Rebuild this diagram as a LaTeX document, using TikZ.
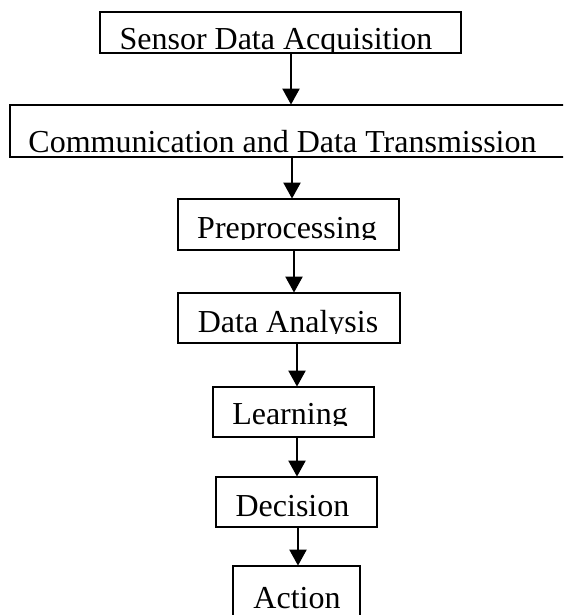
\documentclass[tikz,border=0pt]{standalone}
\usepackage{fontspec}
\setmainfont{Liberation Serif}
\usetikzlibrary{arrows.meta}
\begin{document}
\begin{tikzpicture}[x=1pt,y=-1pt,
  flowbox/.style={draw=black, line width=1.8pt, inner sep=0pt, minimum width=#1},
  lbl/.style={inner sep=0pt, anchor=base, font=\fontsize{32}{38}\selectfont},
  arr/.style={line width=2.2pt, -{Triangle[length=16pt,width=17pt]}, shorten >=-0.5pt}]
\clip (0,0) rectangle (563,615);
% boxes
\node[flowbox=361pt, minimum height=41pt] (b1) at (280.5,32.5) {};
\node[flowbox=560pt, minimum height=52pt] (b2) at (290,131) {};
\node[flowbox=221pt, minimum height=51pt] (b3) at (288.5,224.5) {};
\node[flowbox=222pt, minimum height=50pt] (b4) at (289,318) {};
\node[flowbox=161pt, minimum height=50pt] (b5) at (293.5,412) {};
\node[flowbox=161pt, minimum height=50pt] (b6) at (296.5,502) {};
\node[flowbox=127pt, minimum height=60pt] (b7) at (296.5,596) {};
% labels (clipped like the original text boxes)
\begin{scope}
  \clip (100,12) rectangle (461,51.5);
  \node[lbl] (t1) at (276,50) {Sensor Data Acquisition};
\end{scope}
\node[lbl] (t2) at (282.5,152) {Communication and Data Transmission};
\begin{scope}
  \clip (178,199) rectangle (399,239.5);
  \node[lbl] (t3) at (287,238) {Preprocessing};
\end{scope}
\begin{scope}
  \clip (178,293) rectangle (400,333.5);
  \node[lbl] (t4) at (288,332) {Data Analysis};
\end{scope}
\begin{scope}
  \clip (213,387) rectangle (374,425.5);
  \node[lbl] (t5) at (290,424) {Learning};
\end{scope}
\node[lbl] (t6) at (292.5,516) {Decision};
\node[lbl] (t7) at (297,608) {Action};
% arrow columns
\coordinate (x1) at (291,0);
\coordinate (x2) at (292,0);
\coordinate (x3) at (294,0);
\coordinate (x4) at (297,0);
\coordinate (x5) at (297,0);
\coordinate (x6) at (298,0);
\draw[arr] (b1.south -| x1) -- (b2.north -| x1);
\draw[arr] (b2.south -| x2) -- (b3.north -| x2);
\draw[arr] (b3.south -| x3) -- (b4.north -| x3);
\draw[arr] (b4.south -| x4) -- (b5.north -| x4);
\draw[arr] (b5.south -| x5) -- (b6.north -| x5);
\draw[arr] (b6.south -| x6) -- (b7.north -| x6);
\end{tikzpicture}
\end{document}
